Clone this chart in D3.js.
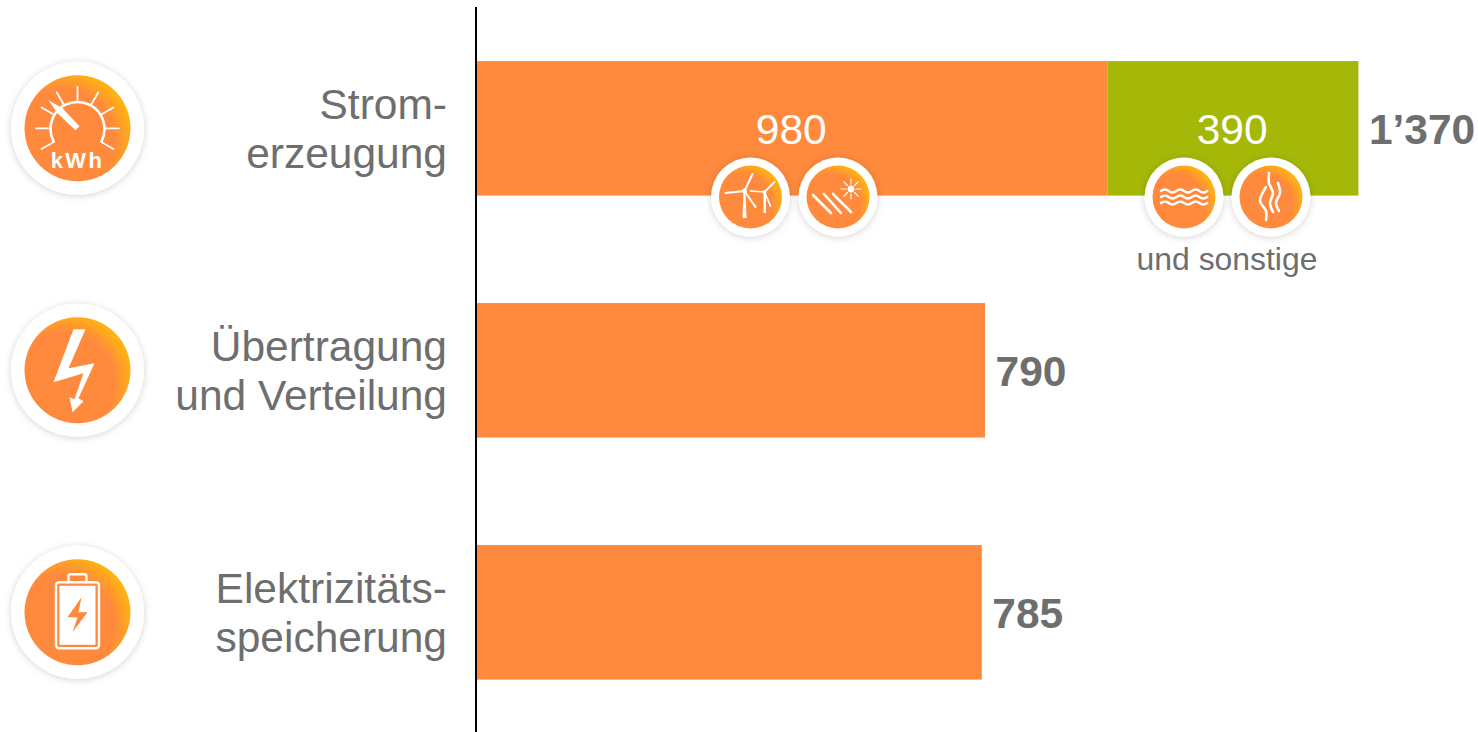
<!DOCTYPE html>
<html>
<head>
<meta charset="utf-8">
<title>Stromerzeugung, Übertragung, Speicherung</title>
<script src="https://cdn.jsdelivr.net/npm/d3@7"></script>
<style>
    html, body { margin: 0; padding: 0; background: #fff; }
    svg { display: block; }
    text { font-family: "Liberation Sans", Arial, sans-serif; }
</style>
</head>
<body>
<div id="picture"></div>
<script>
var categories = ["Stromerzeugung", "Übertragung und Verteilung", "Elektrizitätsspeicherung"];
var categoryLines = [["Strom-", "erzeugung"], ["Übertragung", "und Verteilung"], ["Elektrizitäts-", "speicherung"]];
var orangeValues = [980, 790, 785];
var greenValues = [390, 0, 0];
var totalLabels = ["1’370", "790", "785"];
var categoryIcons = ["gauge", "bolt", "battery"];

function draw() {
    "use strict";

    var width = 1478, height = 732, axis_x = 475.5;
    var orange = "#ff8a3d", green = "#a5b808", grey = "#6e6e6e";

    var svg = d3.select("#picture")
        .append("svg")
        .attr("width", width)
        .attr("height", height);

    var defs = svg.append("defs");

    var grad = defs.append("radialGradient")
        .attr("id", "disc")
        .attr("cx", "0.36").attr("cy", "0.62").attr("r", "0.74");
    grad.append("stop").attr("offset", "0.66").attr("stop-color", orange);
    grad.append("stop").attr("offset", "1").attr("stop-color", "#ffc400");

    var shadow = defs.append("filter")
        .attr("id", "soft")
        .attr("x", "-30%").attr("y", "-30%").attr("width", "160%").attr("height", "160%");
    shadow.append("feDropShadow")
        .attr("dx", 0).attr("dy", 1)
        .attr("stdDeviation", 3.5)
        .attr("flood-color", "#000")
        .attr("flood-opacity", 0.18);

    var x_scale = d3.scaleLinear().domain([0, 1370]).range([476.5, 1358.4]);
    var y_scale = d3.scaleBand()
        .domain(categories)
        .range([6.5, 732])
        .paddingInner(0.444)
        .paddingOuter(0.221)
        .align(0.51);

    // bars
    svg.append("g").selectAll("rect")
        .data(categories)
        .enter().append("rect")
        .attr("x", x_scale(0))
        .attr("y", function (d) { return y_scale(d); })
        .attr("width", function (d, i) { return x_scale(orangeValues[i]) - x_scale(0); })
        .attr("height", y_scale.bandwidth())
        .attr("fill", orange);

    svg.append("g").selectAll("rect")
        .data(categories.filter(function (d, i) { return greenValues[i] > 0; }))
        .enter().append("rect")
        .attr("x", function (d) { return x_scale(orangeValues[categories.indexOf(d)]); })
        .attr("y", function (d) { return y_scale(d); })
        .attr("width", function (d) {
            var i = categories.indexOf(d);
            return x_scale(orangeValues[i] + greenValues[i]) - x_scale(orangeValues[i]);
        })
        .attr("height", y_scale.bandwidth())
        .attr("fill", green);

    // vertical axis, no ticks
    var y_axis = d3.axisLeft(y_scale).tickSize(0).tickFormat("");
    var axis_g = svg.append("g")
        .attr("class", "y_axis")
        .attr("transform", "translate(" + axis_x + ", 0)")
        .call(y_axis);
    axis_g.select(".domain").attr("stroke", "#000").attr("stroke-width", 2);

    // category labels
    categories.forEach(function (c, i) {
        var mid = y_scale(c) + y_scale.bandwidth() / 2;
        categoryLines[i].forEach(function (line, k) {
            svg.append("text")
                .attr("x", 447)
                .attr("y", mid - 9 + k * 49)
                .attr("text-anchor", "end")
                .attr("font-size", 42.5)
                .attr("fill", grey)
                .text(line);
        });
    });

    // totals
    categories.forEach(function (c, i) {
        svg.append("text")
            .attr("x", x_scale(orangeValues[i] + greenValues[i]) + 10.5)
            .attr("y", y_scale(c) + y_scale.bandwidth() / 2 + 16)
            .attr("font-size", 42.5)
            .attr("font-weight", "bold")
            .attr("fill", grey)
            .text(totalLabels[i]);
    });

    // segment labels in first bar
    var first = categories[0];
    var seg_y = y_scale(first) + y_scale.bandwidth() / 2 + 16;
    svg.append("text")
        .attr("x", x_scale(orangeValues[0] / 2) - 0.7)
        .attr("y", seg_y)
        .attr("text-anchor", "middle")
        .attr("font-size", 42.5)
        .attr("fill", "#fff")
        .text(orangeValues[0]);
    svg.append("text")
        .attr("x", x_scale(orangeValues[0] + greenValues[0] / 2) - 0.7)
        .attr("y", seg_y)
        .attr("text-anchor", "middle")
        .attr("font-size", 42.5)
        .attr("fill", "#fff")
        .text(greenValues[0]);
    svg.append("text")
        .attr("x", 1227)
        .attr("y", 270)
        .attr("text-anchor", "middle")
        .attr("font-size", 31.9)
        .attr("fill", grey)
        .text("und sonstige");

    // round badges
    function badge(cx, cy, outer, inner) {
        var g = svg.append("g").attr("transform", "translate(" + cx + "," + cy + ")");
        g.append("circle").attr("r", outer).attr("fill", "#fff").attr("filter", "url(#soft)");
        g.append("circle").attr("r", inner).attr("fill", "url(#disc)");
        return g;
    }

    function stroke(g, d, w) {
        return g.append("path")
            .attr("d", d)
            .attr("fill", "none")
            .attr("stroke", "#fff")
            .attr("stroke-width", w)
            .attr("stroke-linecap", "round")
            .attr("stroke-linejoin", "round");
    }

    var icons = {
        gauge: function (g) {
            d3.range(-120, 121, 30).forEach(function (a) {
                var r = a * Math.PI / 180;
                stroke(g, "M" + 27 * Math.sin(r) + "," + (-27 * Math.cos(r)) +
                    "L" + 41.5 * Math.sin(r) + "," + (-41.5 * Math.cos(r)), 1.8);
            });
            stroke(g, "M-24,13A27,27 0 1 1 24,13", 2.6);
            g.append("path").attr("d", "M-29,-28L-15,-20L2,-2L-2,2L-20,-15Z").attr("fill", "#fff");
            g.append("text")
                .attr("y", 40)
                .attr("text-anchor", "middle")
                .attr("font-size", 22)
                .attr("font-weight", "bold")
                .attr("letter-spacing", 2.4)
                .attr("fill", "#fff")
                .text("kWh");
        },
        bolt: function (g) {
            g.append("path")
                .attr("d", "M-4,-41L8,-41L-9,-2L17,-7L1,28L6,31L-5,42L-8,27L-3,29L6,3L-24,12Z")
                .attr("fill", "#fff");
        },
        battery: function (g) {
            g.append("rect")
                .attr("x", -21.5).attr("y", -30)
                .attr("width", 43).attr("height", 66)
                .attr("rx", 3)
                .attr("fill", "none").attr("stroke", "#fff").attr("stroke-width", 2.4);
            g.append("rect")
                .attr("x", -18).attr("y", -26.5)
                .attr("width", 36).attr("height", 59)
                .attr("fill", "#fff");
            stroke(g, "M-9,-30L-9,-36Q-9,-38 -7,-38L7,-38Q9,-38 9,-36L9,-30", 2.4);
            g.append("path")
                .attr("d", "M4,-15L-10,5L0,5L-5,20L10,0L1,0Z")
                .attr("fill", orange);
        },
        wind: function (g) {
            g.append("path").attr("d", "M-7,-6L-5,-6L-4,21L-8,21Z").attr("fill", "#fff");
            g.append("circle").attr("cx", -6).attr("cy", -6).attr("r", 2.4).attr("fill", "#fff");
            stroke(g, "M-6,-6L2,-23", 2);
            stroke(g, "M-6,-6L-25,-4", 1.8);
            stroke(g, "M-6,-6L5,10", 2);
            g.append("path").attr("d", "M13,-4L15.5,-4L15.5,16L13,16Z").attr("fill", "#fff");
            g.append("circle").attr("cx", 14).attr("cy", -5).attr("r", 2).attr("fill", "#fff");
            stroke(g, "M14,-5L24,-15", 1.8);
            stroke(g, "M14,-5L0,-6", 1.6);
            stroke(g, "M14,-5L20,9", 1.8);
        },
        solar: function (g) {
            stroke(g, "M-25,-2L-7,16", 2.6);
            stroke(g, "M-14,-3L3,16", 2.6);
            stroke(g, "M-5,-3L13,15", 2.6);
            g.append("circle").attr("cx", 13).attr("cy", -8).attr("r", 3.4).attr("fill", "#fff");
            d3.range(0, 360, 45).forEach(function (a) {
                var r = a * Math.PI / 180;
                stroke(g, "M" + (13 + 5 * Math.cos(r)) + "," + (-8 + 5 * Math.sin(r)) +
                    "L" + (13 + 10 * Math.cos(r)) + "," + (-8 + 10 * Math.sin(r)), 1.2);
            });
        },
        water: function (g) {
            [-6, 0, 6].forEach(function (dy) {
                stroke(g, "M-23," + dy + "q4,-3 7.7,0t7.7,0t7.7,0t7.7,0t7.7,0t7.7,0", 2.4);
            });
        },
        heat: function (g) {
            var wavy = d3.line().curve(d3.curveCatmullRom);
            stroke(g, wavy([[-2, -24], [-2, -14], [2, -4], [-1, 6], [2, 15]]), 2.6);
            stroke(g, wavy([[7, -14], [9, -4], [5, 6], [8, 14]]), 2.6);
            stroke(g, wavy([[-5, -10], [-11, 4], [-5, 14], [-5, 23]]), 2.6);
        }
    };

    categories.forEach(function (c, i) {
        var mid = y_scale(c) + y_scale.bandwidth() / 2;
        icons[categoryIcons[i]](badge(77.5, mid, 66.5, 53));
    });

    icons.wind(badge(750.5, 197, 39.5, 31.5));
    icons.solar(badge(838, 197, 39.5, 31.5));
    icons.water(badge(1184, 197, 39.5, 31.5));
    icons.heat(badge(1271, 197, 39.5, 31.5));
}

draw();
</script>
</body>
</html>
